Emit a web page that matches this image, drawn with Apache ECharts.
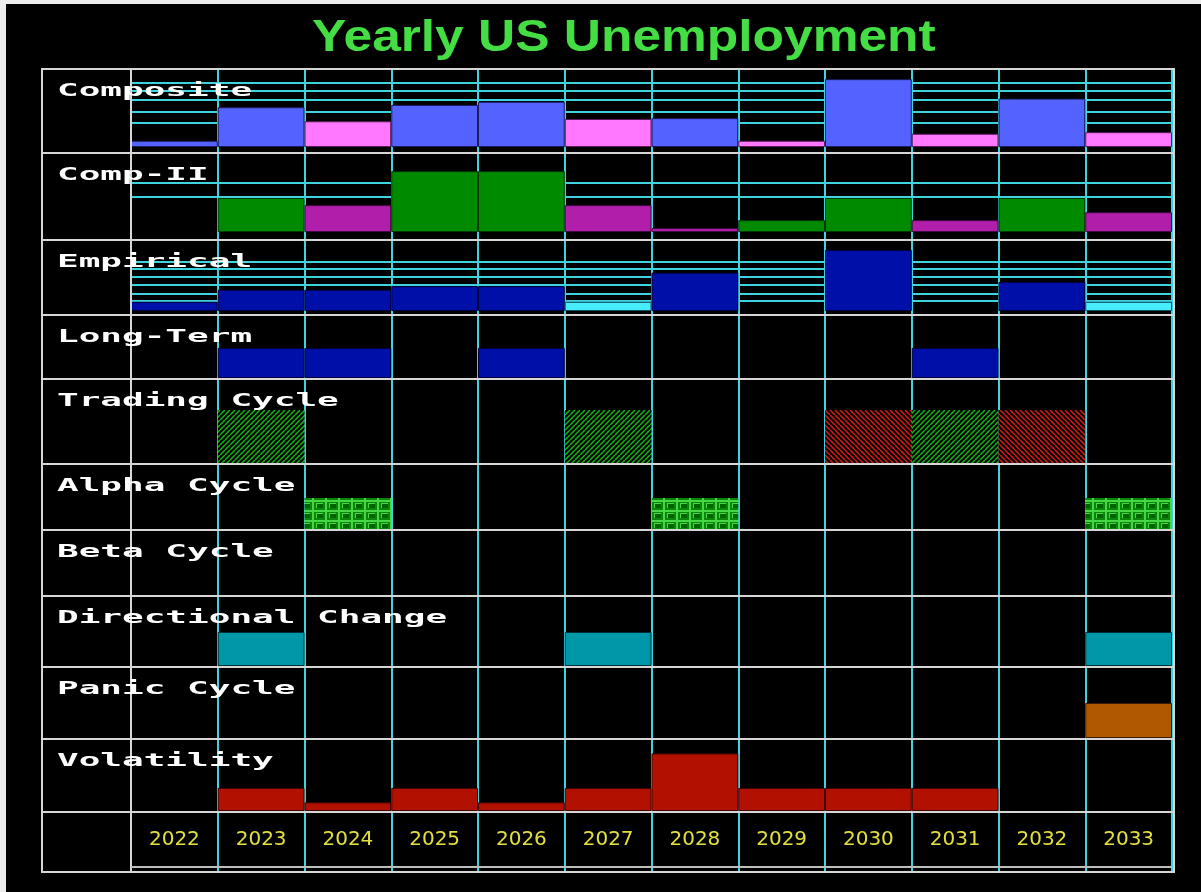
<!DOCTYPE html>
<html>
<head>
<meta charset="utf-8">
<script src="https://cdn.jsdelivr.net/npm/echarts@6/dist/echarts.min.js"></script>
<style>
  html, body { margin: 0; padding: 0; background: #000; }
  #chart { width: 1201px; height: 892px; background: #000; box-shadow: inset 6px 4px 0 #ececec; }
</style>
</head>
<body>
<div id="chart"></div>
<script>
// years along the bottom
var years = ['2022', '2023', '2024', '2025', '2026', '2027', '2028', '2029', '2030', '2031', '2032', '2033'];

// Composite: blue = rising, pink = falling (0-100 scale of the row)
var compositeUp   = [8, 51, null, 54, 58, null, 37, null, 87, null, 62, null];
var compositeDown = [null, null, 33, null, null, 36, null, 8, null, 17, null, 19];
var compositeLevels = [18, 31, 45, 60, 72, 83, 97];

// Comp-II: green = rising, purple = falling
var comp2Up   = [null, 43, null, 77, 77, null, null, 15, 43, null, 43, null];
var comp2Down = [null, null, 34, null, null, 34, 5, null, null, 15, null, 25];
var comp2Levels = [25, 44, 62, 77];

// Empirical: navy = high, cyan = low
var empiricalUp   = [13, 30, 30, 35, 35, null, 54, null, 86, null, 41, null];
var empiricalDown = [null, null, null, null, null, 13, null, null, null, null, null, 13];
var empiricalLevels = [3, 14, 25, 37, 48, 59, 70, 82];

// signal rows (1 = signal in that year)
var longTerm    = [null, 1, 1, null, 1, null, null, null, null, 1, null, null];
var tradingUp   = [null, 1, null, null, null, 1, null, null, null, 1, null, null];
var tradingDown = [null, null, null, null, null, null, null, null, 1, null, 1, null];
var alphaCycle  = [null, null, 1, null, null, null, 1, null, null, null, null, 1];
var betaCycle   = [null, null, null, null, null, null, null, null, null, null, null, null];
var directional = [null, 1, null, null, null, 1, null, null, null, null, null, 1];
var panicCycle  = [null, null, null, null, null, null, null, null, null, null, null, 1];

// Volatility (0-100 scale of the row)
var volatility = [null, 32, 12, 32, 12, 32, 80, 32, 32, 32, null, null];

var rowNames = ['Composite', 'Comp-II', 'Empirical', 'Long-Term', 'Trading Cycle', 'Alpha Cycle',
                'Beta Cycle', 'Directional Change', 'Panic Cycle', 'Volatility'];

// layout: horizontal row lines and the band where each row's bars live
var rowLines = [69, 153, 240, 315, 379, 464, 530, 596, 667, 739, 812, 872];
var barBands = [[69, 147], [153, 232], [240, 311], [348, 378], [410, 463], [498, 530],
                [563, 596], [632, 666], [703, 738], [739, 811]];

var CYAN = '#3fd3df';
var FRAME = '#d6d6d6';
var PLOT_LEFT = 131, PLOT_RIGHT = 1172, W = 1201, H = 892;

function hatchTile(color, forward) {
    var s = 5;
    var c = document.createElement('canvas');
    c.width = s; c.height = s;
    var g = c.getContext('2d');
    g.fillStyle = '#000'; g.fillRect(0, 0, s, s);
    g.strokeStyle = color; g.lineWidth = 1.5;
    g.beginPath();
    for (var k = -s; k <= s; k += s) {
        if (forward) { g.moveTo(k, s); g.lineTo(k + s, 0); }
        else { g.moveTo(k, 0); g.lineTo(k + s, s); }
    }
    g.stroke();
    return c;
}

function brickTile() {
    var c = document.createElement('canvas');
    c.width = 13; c.height = 10;
    var g = c.getContext('2d');
    g.fillStyle = '#0b860b'; g.fillRect(0, 0, 13, 10);
    g.fillStyle = '#46d646'; g.fillRect(0, 0, 13, 2); g.fillRect(0, 0, 2, 10);
    g.fillStyle = '#46d646'; g.fillRect(4, 3, 7, 5);
    g.fillStyle = '#006400'; g.fillRect(5, 4, 6, 4);
    return c;
}

var greenHatch = { image: hatchTile('#14b814', true), repeat: 'repeat' };
var redHatch = { image: hatchTile('#e01a1a', false), repeat: 'repeat' };
var bricks = { image: brickTile(), repeat: 'repeat' };

// what goes in each row: [data, fill, border]
var rows = [
    { parts: [[compositeUp, '#5462ff', '#1c1c5a'], [compositeDown, '#ff78ff', '#5a1c5a']], levels: compositeLevels, max: 100 },
    { parts: [[comp2Up, '#008a00', '#003800'], [comp2Down, '#b01eaa', '#400c40']], levels: comp2Levels, max: 100 },
    { parts: [[empiricalUp, '#000fa8', '#00003a'], [empiricalDown, '#48eeff', '#105060']], levels: empiricalLevels, max: 100 },
    { parts: [[longTerm, '#000fa8', '#00003a']], max: 1 },
    { parts: [[tradingUp, greenHatch, null], [tradingDown, redHatch, null]], max: 1 },
    { parts: [[alphaCycle, bricks, null]], max: 1 },
    { parts: [[betaCycle, '#888', null]], max: 1 },
    { parts: [[directional, '#0098a8', '#003038']], max: 1 },
    { parts: [[panicCycle, '#b05800', '#3a1c00']], max: 1 },
    { parts: [[volatility, '#b21000', '#400600']], max: 100 }
];

var grids = [{ left: PLOT_LEFT, right: W - PLOT_RIGHT, top: rowLines[0], bottom: H - rowLines[11] }];
var xAxes = [{
    type: 'category', gridIndex: 0, data: years, position: 'bottom',
    axisLine: { show: false }, axisTick: { show: false },
    axisLabel: {
        inside: true, margin: 32, interval: 0, verticalAlign: 'middle',
        color: '#e2e040', fontSize: 20, fontFamily: 'DejaVu Sans'
    },
    splitLine: { show: true, interval: 0, lineStyle: { color: CYAN, width: 2 } }
}];
var yAxes = [{ type: 'value', gridIndex: 0, show: false }];
var series = [];

rows.forEach(function (row, i) {
    var gi = i + 1;
    var band = barBands[i];
    grids.push({ left: PLOT_LEFT, right: W - PLOT_RIGHT, top: band[0], height: band[1] - band[0] });
    xAxes.push({ type: 'category', gridIndex: gi, data: years, show: false });
    if (row.levels) {
        yAxes.push({
            type: 'value', gridIndex: gi, min: 0, max: row.max,
            axisLine: { show: false }, axisLabel: { show: false },
            axisTick: { show: false, customValues: row.levels },
            splitLine: { show: true, showMinLine: false, showMaxLine: false, lineStyle: { color: CYAN, width: 2 } }
        });
    } else {
        yAxes.push({ type: 'value', gridIndex: gi, min: 0, max: row.max, show: false });
    }
    row.parts.forEach(function (p) {
        series.push({
            type: 'bar', xAxisIndex: gi, yAxisIndex: gi, data: p[0],
            barWidth: '100%', barGap: '-100%', barCategoryGap: '0%',
            itemStyle: { color: p[1], borderColor: p[2] || 'transparent', borderWidth: p[2] ? 1 : 0 },
            silent: true
        });
    });
});

// frame, row separators, labels and title
var graphics = [];
graphics.push({
    type: 'rect', z: 20, silent: true,
    shape: { x: 42, y: rowLines[0], width: 1174 - 42, height: rowLines[11] - rowLines[0] },
    style: { fill: null, stroke: FRAME, lineWidth: 2 }
});
for (var r = 1; r < rowLines.length - 1; r++) {
    graphics.push({
        type: 'line', z: 20, silent: true,
        shape: { x1: 42, y1: rowLines[r], x2: 1174, y2: rowLines[r] },
        style: { stroke: FRAME, lineWidth: 2 }
    });
}
graphics.push({
    type: 'line', z: 20, silent: true,
    shape: { x1: PLOT_LEFT, y1: rowLines[0], x2: PLOT_LEFT, y2: rowLines[11] },
    style: { stroke: FRAME, lineWidth: 2 }
});
graphics.push({
    type: 'line', z: 20, silent: true,
    shape: { x1: PLOT_LEFT, y1: rowLines[11] - 5, x2: PLOT_RIGHT, y2: rowLines[11] - 5 },
    style: { stroke: '#bdbdbd', lineWidth: 2 }
});
rowNames.forEach(function (name, i) {
    graphics.push({
        type: 'text', z: 30, silent: true, x: 57, y: rowLines[i] + 22, scaleX: 2,
        style: {
            text: name, fill: '#ffffff', align: 'left', verticalAlign: 'middle',
            font: 'bold 18px "DejaVu Sans Mono"'
        }
    });
});
graphics.push({
    type: 'text', z: 30, silent: true, x: 312, y: 39, scaleX: 1.17,
    style: {
        text: 'Yearly US Unemployment', fill: '#44dd44', align: 'left', verticalAlign: 'middle',
        font: 'bold 44px "Liberation Sans"'
    }
});

var chart = echarts.init(document.getElementById('chart'), null, { renderer: 'canvas' });
chart.setOption({
    animation: false,
    backgroundColor: 'transparent',
    grid: grids,
    xAxis: xAxes,
    yAxis: yAxes,
    series: series,
    graphic: graphics
});
</script>
</body>
</html>
